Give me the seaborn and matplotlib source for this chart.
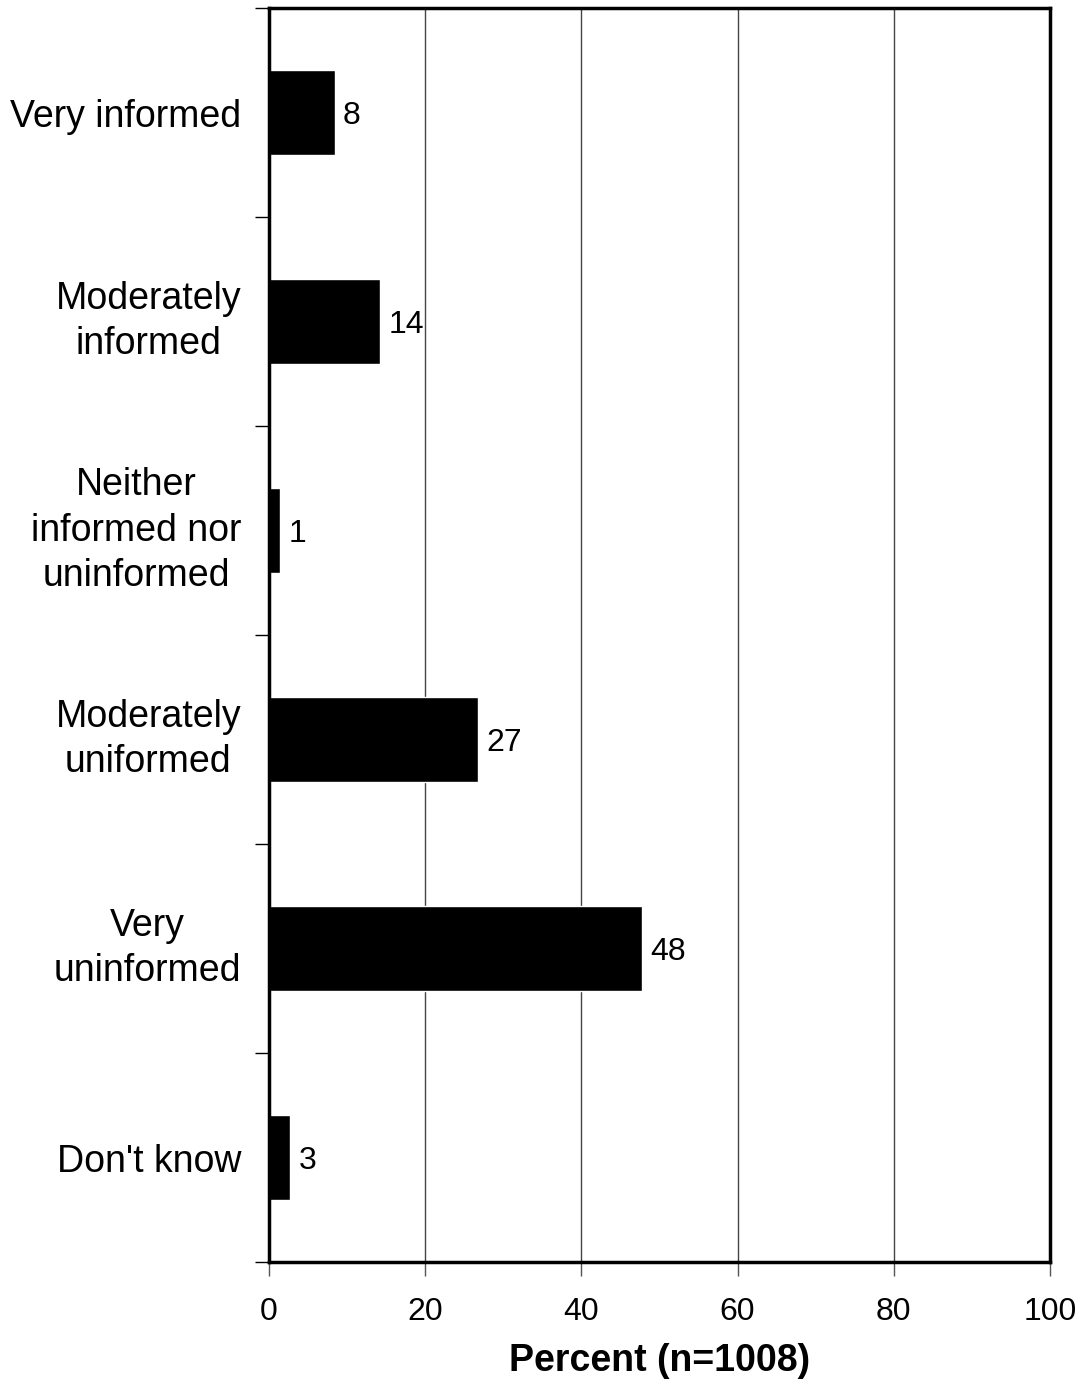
import pandas as pd
import seaborn as sns
import matplotlib.pyplot as plt

sns.set_theme(style="white")
plt.rcParams['font.family'] = ['Liberation Sans', 'DejaVu Sans']
plt.rcParams['text.color'] = 'black'
plt.rcParams['xtick.color'] = 'black'
plt.rcParams['ytick.color'] = 'black'
plt.rcParams['axes.labelcolor'] = 'black'

categories = ["Very informed", "Moderately\ninformed", "Neither\ninformed nor\nuninformed",
              "Moderately\nuniformed", "Very\nuninformed", "Don't know"]
values = [8.4, 14.2, 1.4, 26.8, 47.8, 2.7]
value_labels = ["8", "14", "1", "27", "48", "3"]
x_ticks = [0, 20, 40, 60, 80, 100]

df = pd.DataFrame({"category": categories, "percent": values})

fig = plt.figure(figsize=(10.81, 13.82), dpi=100)
ax = fig.add_axes([0.2488, 0.0868, 0.7225, 0.9074])

sns.barplot(data=df, x="percent", y="category", orient="h", color="black",
            width=0.41, saturation=1, ax=ax)

for i, (v, lab) in enumerate(zip(values, value_labels)):
    ax.annotate(lab, xy=(v, i), xytext=(6, 0), textcoords="offset points",
                ha="left", va="center_baseline", fontsize=23)

ax.set_xlim(0, 100)
ax.set_ylim(len(categories) - 0.5, -0.5)
ax.set_xticks(x_ticks)
ax.set_xticklabels([str(t) for t in x_ticks], fontsize=23)
ax.set_yticks([i - 0.5 for i in range(len(categories) + 1)])
ax.set_yticklabels([])
ax.set_yticks(range(len(categories)), categories, minor=True)
ax.tick_params(axis="y", which="minor", length=0, pad=20, labelsize=27)
ax.tick_params(axis="y", which="major", direction="out", length=10, width=1, color="black", left=True)
ax.tick_params(axis="x", which="major", direction="out", length=10, width=1, color="#555555",
               bottom=True, pad=15)
for lab in ax.get_yticklabels(minor=True):
    lab.set_horizontalalignment("right")
    lab.set_multialignment("center")
    lab.set_linespacing(1.35)
    if "\n" in lab.get_text():
        lab.set_verticalalignment("center")

ax.xaxis.grid(True, color="#444444", linewidth=1)
ax.yaxis.grid(False)
ax.set_axisbelow(True)
for s in ax.spines.values():
    s.set_visible(True)
    s.set_color("black")
    s.set_linewidth(2.5)

ax.set_ylabel("")
ax.set_xlabel("Percent (n=1008)", fontsize=27, fontweight="bold", labelpad=12)

fig.savefig("out.png", dpi=100)
